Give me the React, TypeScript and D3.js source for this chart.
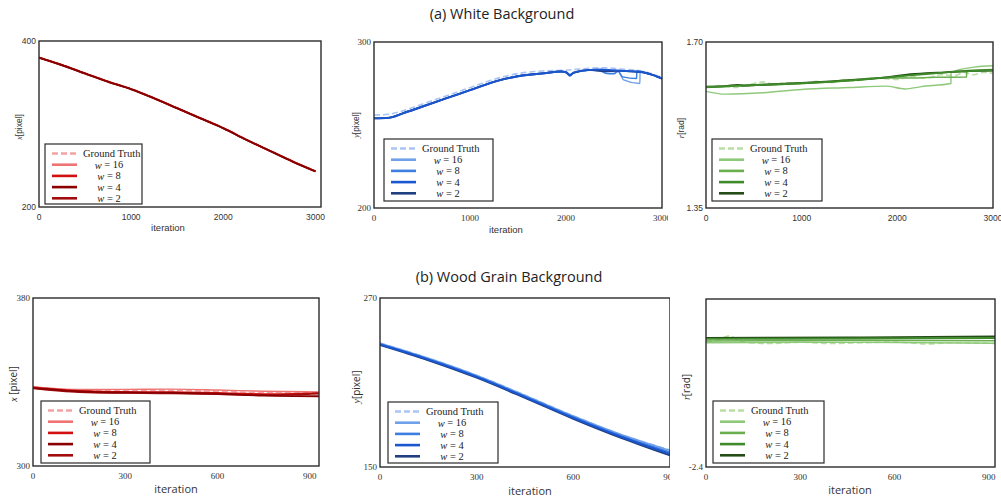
import React from 'react'
import * as d3 from 'd3'

type Pt = [number, number]

// ---- series data: [iteration, value] ----
// (a) white background, x
const whiteXGt: Pt[] = [[0, 380.5], [250, 371.5], [500, 361.5], [750, 351.5], [1000, 342.5], [1250, 331.5], [1500, 319.5], [1750, 307.5], [2000, 295.5], [2250, 281.5], [2500, 268.5], [2750, 255.5], [3000, 243.5]]
const whiteXW16: Pt[] = [[0, 380], [250, 371.2], [500, 361], [750, 351.2], [1000, 342], [1250, 331.2], [1500, 319], [1750, 307.2], [2000, 295], [2250, 281.2], [2500, 268], [2750, 255.2], [3000, 243]]
const whiteXW8: Pt[] = [[0, 380], [250, 371], [500, 361], [750, 351], [1000, 342], [1250, 331], [1500, 319], [1750, 307], [2000, 295], [2250, 281], [2500, 268], [2750, 255], [3000, 243]]
const whiteXW4: Pt[] = [[0, 379.8], [250, 370.8], [500, 360.8], [750, 350.8], [1000, 341.8], [1250, 330.8], [1500, 318.8], [1750, 306.8], [2000, 294.8], [2250, 280.8], [2500, 267.8], [2750, 254.8], [3000, 242.8]]
const whiteXW2: Pt[] = [[0, 380], [250, 371], [500, 361], [750, 351], [1000, 342], [1250, 331], [1500, 319], [1750, 307], [2000, 295], [2250, 281], [2500, 268], [2750, 255], [3000, 243]]

// (a) white background, y
const whiteYGt: Pt[] = [[0, 256], [150, 256.5], [300, 258.5], [500, 262.5], [750, 267.5], [1000, 272.5], [1250, 277.5], [1500, 281], [1750, 282.5], [2000, 283], [2200, 284], [2400, 284.5], [2600, 283.6], [2800, 282.4], [3000, 278.6]]
const whiteYW16: Pt[] = [[0, 254.2], [150, 254.5], [300, 257.2], [500, 261.2], [750, 266.2], [1000, 271.2], [1250, 276.2], [1500, 279.6], [1750, 281.2], [1950, 282.2], [2000, 281.6], [2040, 279.4], [2080, 281.3], [2250, 283], [2354, 282.6], [2420, 281], [2500, 280.8], [2542, 282.4], [2600, 277.2], [2770, 275], [2771, 282.4], [2800, 281.8], [2900, 280.2], [3000, 278]]
const whiteYW8: Pt[] = [[0, 254.1], [150, 254.4], [300, 257.1], [500, 261.1], [750, 266.1], [1000, 271.1], [1250, 276.1], [1500, 279.5], [1750, 281.1], [1950, 282.2], [2000, 281.7], [2040, 279.7], [2080, 281.4], [2250, 283.1], [2354, 282.7], [2420, 281.2], [2500, 281], [2542, 282.4], [2590, 279], [2736, 278], [2737, 282.6], [2800, 281.8], [2900, 280.2], [3000, 278]]
const whiteYW4: Pt[] = [[0, 254], [150, 254.3], [300, 257], [500, 261], [750, 266], [1000, 271], [1250, 276], [1500, 279.4], [1750, 281], [1950, 282.2], [2000, 281.8], [2040, 280], [2080, 281.5], [2250, 283.2], [2354, 283.4], [2450, 283.2], [2542, 282.8], [2700, 282.3], [2800, 281.8], [2900, 280.2], [3000, 278]]
const whiteYW2: Pt[] = [[0, 254], [150, 254.3], [300, 257], [500, 261], [750, 266], [1000, 271], [1250, 276], [1500, 279.4], [1750, 281], [1950, 282.2], [2000, 281.8], [2040, 280.2], [2080, 281.5], [2250, 283.2], [2400, 282.5], [2550, 282.6], [2700, 282.2], [2800, 281.8], [2900, 280.2], [3000, 278]]

// (a) white background, r
const whiteRGt: Pt[] = [[0, 1.605], [150, 1.607], [300, 1.604], [450, 1.61], [600, 1.616], [700, 1.611], [850, 1.614], [1000, 1.612], [1150, 1.617], [1300, 1.614], [1450, 1.621], [1550, 1.618], [1700, 1.624], [1850, 1.623], [2000, 1.621], [2150, 1.627], [2300, 1.624], [2450, 1.631], [2600, 1.629], [2700, 1.636], [2800, 1.631], [2900, 1.636], [3000, 1.634]]
const whiteRW16: Pt[] = [[0, 1.596], [200, 1.59], [600, 1.593], [1000, 1.6], [1500, 1.604], [1880, 1.607], [2080, 1.601], [2250, 1.606], [2560, 1.6125], [2561, 1.636], [2800, 1.647], [3000, 1.65]]
const whiteRW8: Pt[] = [[0, 1.604], [330, 1.607], [1000, 1.6125], [1600, 1.62], [1900, 1.624], [2100, 1.624], [2400, 1.6255], [2724, 1.626], [2725, 1.64], [3000, 1.642]]
const whiteRW4: Pt[] = [[0, 1.605], [330, 1.608], [1000, 1.613], [1600, 1.6205], [1900, 1.6255], [2100, 1.629], [2300, 1.6325], [2500, 1.636], [2750, 1.6385], [3000, 1.6405]]
const whiteRW2: Pt[] = [[0, 1.606], [200, 1.607], [330, 1.6095], [400, 1.608], [700, 1.611], [1000, 1.6135], [1300, 1.617], [1600, 1.621], [1900, 1.626], [2100, 1.631], [2300, 1.634], [2500, 1.636], [2750, 1.639], [3000, 1.64]]

// (b) wood grain background, x
const woodXGt: Pt[] = [[0, 337.6], [150, 336.2], [300, 336], [450, 336], [600, 335.6], [750, 335], [930, 335]]
const woodXW16: Pt[] = [[0, 337.8], [150, 336.4], [300, 336.5], [450, 336.6], [600, 336.2], [750, 335.6], [930, 335.3]]
const woodXW8: Pt[] = [[0, 337.5], [150, 335.8], [300, 335.3], [450, 335.2], [600, 334.9], [750, 334.3], [930, 334.8]]
const woodXW4: Pt[] = [[0, 337.2], [150, 335.5], [300, 335], [450, 334.9], [600, 334.4], [750, 333.5], [930, 333.2]]
const woodXW2: Pt[] = [[0, 337], [150, 335.2], [300, 334.8], [450, 334.6], [600, 334.3], [750, 333.8], [850, 334], [930, 334.5]]

// (b) wood grain background, y
const woodYGt: Pt[] = [[0, 238], [150, 227.3], [300, 215.1], [450, 201], [600, 186.3], [750, 173], [900, 162]]
const woodYW16: Pt[] = [[0, 237.9], [150, 227.2], [300, 215], [450, 200.9], [600, 186.2], [750, 172.9], [900, 161.8]]
const woodYW8: Pt[] = [[0, 237.4], [150, 226.7], [300, 214.4], [450, 200.2], [600, 185.5], [750, 172], [900, 160.6]]
const woodYW4: Pt[] = [[0, 237], [150, 226.3], [300, 214], [450, 199.7], [600, 184.9], [750, 171.3], [900, 159.4]]
const woodYW2: Pt[] = [[0, 236.6], [150, 225.8], [300, 213.4], [450, 199.1], [600, 184.2], [750, 170.5], [900, 158.2]]

// (b) wood grain background, r
const woodRGt: Pt[] = [[0, -1.8], [40, -1.795], [70, -1.776], [120, -1.805], [200, -1.812], [300, -1.806], [400, -1.812], [500, -1.808], [600, -1.805], [700, -1.814], [800, -1.808], [920, -1.812]]
const woodRW16: Pt[] = [[0, -1.808], [460, -1.806], [920, -1.811]]
const woodRW8: Pt[] = [[0, -1.8], [460, -1.797], [920, -1.799]]
const woodRW4: Pt[] = [[0, -1.79], [460, -1.788], [920, -1.786]]
const woodRW2: Pt[] = [[0, -1.785], [460, -1.783], [920, -1.778]]

const legendLabels = ['Ground Truth', '16', '8', '4', '2']

const reds = ['#f3a3a3', '#ee7474', '#d21010', '#8a0000', '#a30c0c']
const blues = ['#a9c4f5', '#6fa0ea', '#3d7ee0', '#1a56d0', '#1f3f80']
const greens = ['#b9dea4', '#8ec97a', '#6aaf4e', '#3f8a2a', '#244d17']

type PanelCfg = {
  box: [number, number, number, number]
  xDomain: [number, number]
  yDomain: [number, number]
  xTicks: number[]
  yTicks: { value: number; label: string }[]
  series: Pt[][]
  colors: string[]
  variable: string
  unit: string
  yLabelPos: [number, number]
  xLabelPos?: [number, number]
  legend: [number, number, number, number]
  serif: boolean
  clipRight?: number
}

const panels: PanelCfg[] = [
  {
    box: [39, 41, 321, 207], xDomain: [0, 3060], yDomain: [200, 400], xTicks: [0, 1000, 2000, 3000],
    yTicks: [{ value: 400, label: '400' }, { value: 200, label: '200' }],
    series: [whiteXGt, whiteXW16, whiteXW8, whiteXW4, whiteXW2], colors: reds,
    variable: 'x', unit: '[pixel]', yLabelPos: [19, 127], xLabelPos: [168, 230.5],
    legend: [45, 144, 97, 60], serif: false,
  },
  {
    box: [374, 42, 662, 208], xDomain: [0, 3000], yDomain: [200, 300], xTicks: [0, 1000, 2000, 3000],
    yTicks: [{ value: 300, label: '300' }, { value: 200, label: '200' }],
    series: [whiteYGt, whiteYW16, whiteYW8, whiteYW4, whiteYW2], colors: blues,
    variable: 'y', unit: '[pixel]', yLabelPos: [356, 125], xLabelPos: [506, 233],
    legend: [384, 139, 109, 62], serif: true, clipRight: 668,
  },
  {
    box: [706, 42, 993, 208], xDomain: [0, 3000], yDomain: [1.35, 1.7], xTicks: [0, 1000, 2000, 3000],
    yTicks: [{ value: 1.7, label: '1.70' }, { value: 1.35, label: '1.35' }],
    series: [whiteRGt, whiteRW16, whiteRW8, whiteRW4, whiteRW2], colors: greens,
    variable: 'r', unit: '[rad]', yLabelPos: [681, 128],
    legend: [712, 139, 110, 62], serif: false,
  },
  {
    box: [33, 298, 319, 466], xDomain: [0, 930], yDomain: [300, 380], xTicks: [0, 300, 600, 900],
    yTicks: [{ value: 380, label: '380' }, { value: 300, label: '300' }],
    series: [woodXGt, woodXW16, woodXW8, woodXW4, woodXW2], colors: reds,
    variable: 'x', unit: ' [pixel]', yLabelPos: [13, 384], xLabelPos: [176, 493],
    legend: [41, 401, 109, 62], serif: true,
  },
  {
    box: [380, 298, 670, 467], xDomain: [0, 900], yDomain: [150, 270], xTicks: [0, 300, 600, 900],
    yTicks: [{ value: 270, label: '270' }, { value: 150, label: '150' }],
    series: [woodYGt, woodYW16, woodYW8, woodYW4, woodYW2], colors: blues,
    variable: 'y', unit: '[pixel]', yLabelPos: [356, 387], xLabelPos: [530, 495],
    legend: [388, 402, 110, 61], serif: true, clipRight: 670,
  },
  {
    box: [706, 299, 995, 467], xDomain: [0, 920], yDomain: [-2.4, -1.6], xTicks: [0, 300, 600, 900],
    yTicks: [{ value: -2.4, label: '-2.4' }],
    series: [woodRGt, woodRW16, woodRW8, woodRW4, woodRW2], colors: greens,
    variable: 'r', unit: '[rad]', yLabelPos: [686, 387], xLabelPos: [850, 494],
    legend: [713, 401, 111, 62], serif: true,
  },
]

const widths = [1.6, 1.4, 1.5, 1.9, 1.9]
// paint order: ground truth, w=16, w=8, w=2, then w=4 on top
const drawOrder = [0, 1, 2, 4, 3]

const Panel = ({ p, idx }: { p: PanelCfg; idx: number }) => {
  const [x0, y0, x1, y1] = p.box
  const x = d3.scaleLinear().domain(p.xDomain).range([x0, x1])
  const y = d3.scaleLinear().domain(p.yDomain).range([y1, y0])
  const line = d3.line<Pt>().x(d => x(d[0])).y(d => y(d[1])).curve(d3.curveMonotoneX)
  const tickFont = p.serif ? 'Liberation Serif' : 'Liberation Sans'
  const tickSize = p.serif ? 9 : 8.5
  const labelFont = idx < 3 ? 'Liberation Sans' : 'Open Sans'
  const [lx, ly, lw, lh] = p.legend
  const clipId = `plot-clip-${idx}`
  const outerId = `outer-clip-${idx}`

  return (
    <g clipPath={p.clipRight ? `url(#${outerId})` : undefined}>
      <defs>
        <clipPath id={clipId}>
          <rect x={x0} y={y0} width={x1 - x0} height={y1 - y0} />
        </clipPath>
        {p.clipRight && (
          <clipPath id={outerId}>
            <rect x={0} y={0} width={p.clipRight} height={498} />
          </clipPath>
        )}
      </defs>
      <g clipPath={`url(#${clipId})`}>
        {drawOrder.map(i => (
          <path key={i} d={line(p.series[i]) || ''} fill="none" stroke={p.colors[i]}
            strokeWidth={widths[i]} strokeDasharray={i === 0 ? '6,3' : undefined} />
        ))}
      </g>
      <rect x={x0} y={y0} width={x1 - x0} height={y1 - y0} fill="none" stroke="#2b2b2b" strokeWidth={1.4} />
      {p.yTicks.map(t => (
        <text key={t.label} x={x0 - 3} y={y(t.value)} textAnchor="end" dominantBaseline="central"
          fontFamily={tickFont} fontSize={tickSize} fill="#333">{t.label}</text>
      ))}
      {p.xTicks.map(t => (
        <text key={t} x={x(t)} y={y1 + 13} textAnchor="middle"
          fontFamily={tickFont} fontSize={tickSize} fill="#333">{t}</text>
      ))}
      {p.xLabelPos && (
        <text x={p.xLabelPos[0]} y={p.xLabelPos[1]} textAnchor="middle"
          fontFamily={labelFont} fontSize={idx < 3 ? 9.5 : 11} fill="#333">iteration</text>
      )}
      <text transform={`translate(${p.yLabelPos[0]},${p.yLabelPos[1]}) rotate(-90)`} textAnchor="middle"
        dominantBaseline="central" fontFamily={labelFont} fontSize={idx < 3 ? 8.5 : 10} fill="#333">
        <tspan fontFamily="Liberation Serif" fontStyle="italic">{p.variable}</tspan>
        <tspan>{p.unit}</tspan>
      </text>
      <rect x={lx} y={ly} width={lw} height={lh} fill="#fff" stroke="#2b2b2b" strokeWidth={1.2} />
      {legendLabels.map((lab, i) => {
        const iy = ly + 9.5 + i * 11.2
        const sx = lx + 7
        const tx = sx + 31
        return (
          <g key={lab}>
            <line x1={sx} x2={sx + 25} y1={iy} y2={iy} stroke={p.colors[i]} strokeWidth={2.6}
              strokeDasharray={i === 0 ? '6,3' : undefined} />
            {i === 0 ? (
              <text x={tx} y={iy} dominantBaseline="central" fontFamily="Liberation Serif"
                fontSize={10.5} fill="#222">{lab}</text>
            ) : (
              <text x={tx + 26} y={iy} textAnchor="middle" dominantBaseline="central"
                fontFamily="Liberation Serif" fontSize={10.5} fill="#222">
                <tspan fontStyle="italic">w</tspan> = {lab}
              </text>
            )}
          </g>
        )
      })}
    </g>
  )
}

const App = () => {
  return (
    <svg width={1001} height={498} style={{ position: 'absolute', left: 0, top: 0, background: '#fff' }}>
      <text x={502} y={19} textAnchor="middle" fontFamily="Open Sans" fontSize={14.5} fill="#222">
        (a) White Background
      </text>
      <text x={509} y={282} textAnchor="middle" fontFamily="Open Sans" fontSize={14.5} fill="#222">
        (b) Wood Grain Background
      </text>
      {panels.map((p, i) => <Panel key={i} p={p} idx={i} />)}
    </svg>
  )
}

export default App
